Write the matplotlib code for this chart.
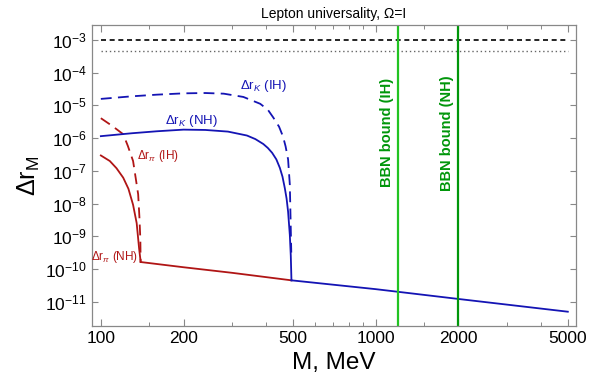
import numpy as np
import matplotlib
matplotlib.use("Agg")
from matplotlib import pyplot as plt
from matplotlib.ticker import FixedLocator, FixedFormatter, NullFormatter

plt.rcParams['font.family'] = ['Liberation Sans', 'DejaVu Sans']
plt.rcParams['mathtext.fontset'] = 'custom'
plt.rcParams['mathtext.rm'] = 'Liberation Sans'
plt.rcParams['mathtext.it'] = 'Liberation Sans:italic'
plt.rcParams['mathtext.bf'] = 'Liberation Sans:bold'

# pion curves (log10 values)
m_pi_nh = [100, 107.8, 114, 120.6, 126, 131, 135, 137.8, 139.0, 139.57]
lg_pi_nh = [-6.53, -6.70, -6.92, -7.21, -7.55, -8.04, -8.60, -9.38, -9.65, -9.79]
m_pi_ih = [100, 109.7, 120.6, 125.4, 131, 133.9, 136.7, 138.1, 139.2, 139.57]
lg_pi_ih = [-5.39, -5.62, -5.88, -6.24, -6.70, -7.22, -7.72, -8.40, -9.08, -9.79]

# kaon curves
m_k_nh = [100, 130, 160, 200, 240, 290, 340, 365, 390, 405, 420, 435, 448, 458,
          467, 474, 480, 487, 491, 493.7]
lg_k_nh = [-5.94, -5.85, -5.79, -5.74, -5.75, -5.80, -5.92, -6.03, -6.18, -6.30,
           -6.45, -6.65, -6.91, -7.18, -7.53, -7.85, -8.25, -8.96, -9.6, -10.35]
m_k_ih = [100, 130, 160, 200, 240, 280, 330, 380, 405, 424, 445, 460, 470, 480,
          487, 490, 493.0]
lg_k_ih = [-4.80, -4.72, -4.67, -4.63, -4.62, -4.64, -4.74, -4.95, -5.13, -5.37,
           -5.65, -5.95, -6.25, -6.65, -7.42, -8.45, -9.5]

# tails above threshold
m_tail_pi = [139.57, 200, 300, 493.7]
lg_tail_pi = [-9.79, -9.95, -10.12, -10.35]
m_tail_k = [493.7, 1000, 2000, 5000]
lg_tail_k = [-10.35, -10.62, -10.92, -11.31]

# horizontal bounds and BBN masses
m_range = [100, 5000]
bound_dashed = 1e-3
bound_dotted = 4.7e-4
bbn_ih = 1210
bbn_nh = 2000

red = '#b01515'
blue = '#1414b4'
green_ih = '#22c322'
green_nh = '#00960a'

fig = plt.figure(figsize=(6.12, 3.85), dpi=100)
ax = fig.add_axes([0.150, 0.153, 0.791, 0.782])

ax.plot(m_range, [bound_dashed] * 2, color='black', ls=(0, (3, 2.2)), lw=1.2)
ax.plot(m_range, [bound_dotted] * 2, color='#666666', ls=(0, (1, 2)), lw=1.0)

ax.plot(m_pi_nh, 10 ** np.array(lg_pi_nh), color=red, lw=1.3)
ax.plot(m_pi_ih, 10 ** np.array(lg_pi_ih), color=red, lw=1.3, ls=(0, (6, 3.5)))
ax.plot(m_tail_pi, 10 ** np.array(lg_tail_pi), color=red, lw=1.3)

ax.plot(m_k_nh, 10 ** np.array(lg_k_nh), color=blue, lw=1.3)
ax.plot(m_k_ih, 10 ** np.array(lg_k_ih), color=blue, lw=1.3, ls=(0, (6, 3.5)))
ax.plot(m_tail_k, 10 ** np.array(lg_tail_k), color=blue, lw=1.3)

ax.axvline(bbn_ih, color=green_ih, lw=1.6)
ax.axvline(bbn_nh, color=green_nh, lw=1.6)

ax.set_xscale('log')
ax.set_yscale('log')
ax.set_xlim(92.7, 5350)
ax.set_ylim(10 ** -11.75, 10 ** -2.54)

major_x = [100, 200, 500, 1000, 2000, 5000]
minor_x = [150, 300, 400, 600, 700, 800, 900, 1500, 3000, 4000]
ax.xaxis.set_major_locator(FixedLocator(major_x))
ax.xaxis.set_major_formatter(FixedFormatter([str(v) for v in major_x]))
ax.xaxis.set_minor_locator(FixedLocator(minor_x))
ax.xaxis.set_minor_formatter(NullFormatter())
exps = list(range(-11, -2))
ax.yaxis.set_major_locator(FixedLocator([10.0 ** e for e in exps]))
ax.yaxis.set_major_formatter(FixedFormatter([r'$10^{%d}$' % e for e in exps]))
ax.yaxis.set_minor_locator(FixedLocator([]))

ax.tick_params(which='both', direction='in', top=True, right=True, color='#888888')
ax.tick_params(axis='x', labelsize=12.5)
ax.tick_params(axis='y', labelsize=12.5)
ax.tick_params(which='major', length=5, width=0.8)
ax.tick_params(which='minor', length=3, width=0.7)
ax.tick_params(axis='y', length=4)
for s in ax.spines.values():
    s.set_color('#888888')
    s.set_linewidth(0.9)

ax.set_title('Lepton universality, Ω=I', fontsize=10, pad=5)
ax.set_xlabel('M, MeV', fontsize=17.5, labelpad=4)
ax.set_ylabel(r'$\Delta\mathrm{r}_\mathrm{M}$', fontsize=18, labelpad=2)

ax.text(320, 10 ** -4.39, r'$\Delta\mathrm{r}_{K}$ (IH)', color=blue, fontsize=9.5, va='center', ha='left')
ax.text(171, 10 ** -5.47, r'$\Delta\mathrm{r}_{K}$ (NH)', color=blue, fontsize=9.5, va='center', ha='left')
ax.text(135, 10 ** -6.55, r'$\Delta\mathrm{r}_{\pi}$ (IH)', color=red, fontsize=8.5, va='center', ha='left')
ax.text(137, 10 ** -9.64, r'$\Delta\mathrm{r}_{\pi}$ (NH)', color=red, fontsize=8.5, va='center', ha='right')

ax.text(1100, 10 ** -5.84, 'BBN bound (IH)', color=green_nh, fontsize=10.5, fontweight='bold',
        rotation=90, va='center', ha='center')
ax.text(1813, 10 ** -5.84, 'BBN bound (NH)', color=green_nh, fontsize=10.5, fontweight='bold',
        rotation=90, va='center', ha='center')

fig.savefig('out.png', dpi=100)
